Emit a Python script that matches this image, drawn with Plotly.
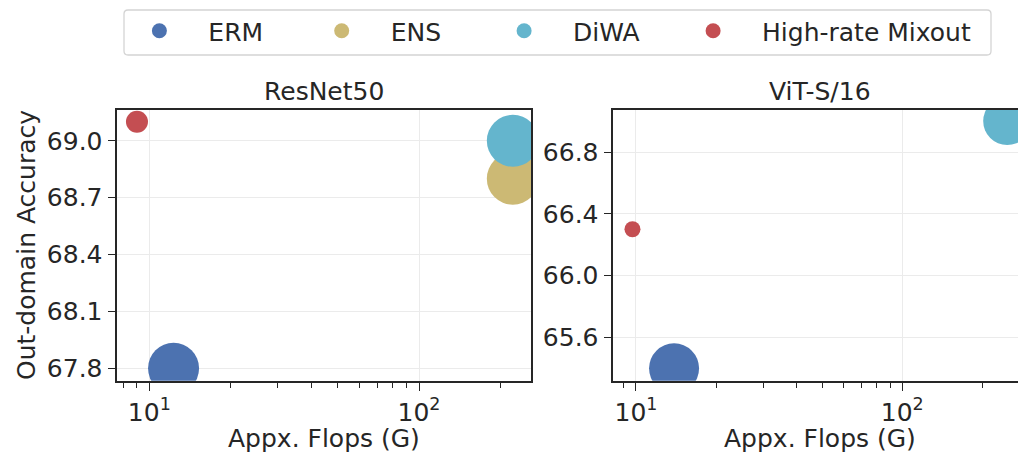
import plotly.graph_objects as go

methods = ["ERM", "ENS", "DiWA", "High-rate Mixout"]
colors = ["#4C72B0", "#CCB974", "#64B5CD", "#C44E52"]

# ResNet50 panel
resnet_flops = [12.3, 222.8, 222.8, 9.0]
resnet_acc = [67.8, 68.8, 69.0, 69.1]
resnet_size = [51, 52, 52, 22]

# ViT-S/16 panel (ENS not visible in the cropped view)
vit_flops = [13.9, None, 247.7, 9.7]
vit_acc = [65.4, None, 67.0, 66.3]
vit_size = [50, None, 48, 16]

resnet_yticks = [67.8, 68.1, 68.4, 68.7, 69.0]
vit_yticks = [65.6, 66.0, 66.4, 66.8]
x_major = [10, 100]
x_major_text = ["10<sup>1</sup>", "10<sup>2</sup>"]
x_minor = [8, 9, 20, 30, 40, 50, 60, 70, 80, 90, 200]

W, H = 1018, 453
FONT = "DejaVu Sans"
TXT = "#262626"

# legend layout (pixels)
legend_marker_px = [161.7, 344.0, 526.4, 715.4]
ITEMW = 72
MARKER_OFF = 43.3

fig = go.Figure()

for i, m in enumerate(methods):
    if resnet_flops[i] is not None:
        fig.add_trace(go.Scatter(
            x=[resnet_flops[i]], y=[resnet_acc[i]], mode="markers",
            marker=dict(size=resnet_size[i], color=colors[i], line=dict(width=0)),
            showlegend=False, xaxis="x", yaxis="y", name=m))
    if vit_flops[i] is not None:
        fig.add_trace(go.Scatter(
            x=[vit_flops[i]], y=[vit_acc[i]], mode="markers",
            marker=dict(size=vit_size[i], color=colors[i], line=dict(width=0)),
            showlegend=False, xaxis="x2", yaxis="y2", name=m))

legend_names = ["legend", "legend2", "legend3", "legend4"]
for i, m in enumerate(methods):
    fig.add_trace(go.Scatter(
        x=[None], y=[None], mode="markers", name="\u00a0" + m,
        marker=dict(size=15, color=colors[i], line=dict(width=0)),
        showlegend=True, legend=legend_names[i], xaxis="x", yaxis="y"))

def xaxis(domain, rng):
    return dict(
        domain=domain, type="log", range=rng,
        showline=True, linecolor=TXT, linewidth=1.6, mirror=True,
        showgrid=True, gridcolor="#ebebeb", gridwidth=1,
        zeroline=False,
        tickmode="array", tickvals=x_major, ticktext=x_major_text,
        ticks="outside", ticklen=8, tickwidth=1.4, tickcolor=TXT,
        tickfont=dict(family=FONT, size=25, color=TXT),
        minor=dict(tickmode="array", tickvals=x_minor, ticks="outside",
                   ticklen=5, tickwidth=1.2, tickcolor=TXT, showgrid=False),
        automargin=False,
    )

def yaxis(domain, rng, ticks, anchor, mirror):
    return dict(
        domain=domain, range=rng, anchor=anchor,
        showline=True, linecolor=TXT, linewidth=1.6, mirror=mirror,
        showgrid=True, gridcolor="#ebebeb", gridwidth=1,
        zeroline=False,
        tickmode="array", tickvals=ticks, tickformat=".1f",
        ticks="outside", ticklen=8, tickwidth=1.4, tickcolor=TXT,
        tickfont=dict(family=FONT, size=25, color=TXT),
        ticklabelstandoff=0,
        automargin=False,
    )

ydom = [1 - 380.7 / H, 1 - 109.5 / H]
layout = dict(
    width=W, height=H,
    margin=dict(l=0, r=0, t=0, b=0),
    paper_bgcolor="white", plot_bgcolor="white",
    font=dict(family=FONT, color=TXT, size=25),
    xaxis=xaxis([117.3 / W, 531 / W], [0.8813, 2.4153]) | dict(anchor="y"),
    yaxis=yaxis(ydom, [67.735, 69.165], resnet_yticks, "x", True),
    xaxis2=xaxis([613.3 / W, 1.0], [0.9148, 2.4345]) | dict(anchor="y2"),
    yaxis2=yaxis(ydom, [65.32, 67.075], vit_yticks, "x2", False),
    showlegend=True,
)
for i, ln in enumerate(legend_names):
    layout[ln] = dict(
        orientation="h", x=(legend_marker_px[i] - MARKER_OFF) / W, xanchor="left",
        y=1 - 8 / H, yanchor="top",
        borderwidth=0, bgcolor="rgba(0,0,0,0)",
        font=dict(family=FONT, size=25, color=TXT),
        itemwidth=ITEMW, itemclick=False, itemdoubleclick=False,
    )
fig.update_layout(**layout)

# rounded legend frame
x0, x1, y0, y1, r = 124, 991, 10, 55, 4
def px(x):
    return x / W
def py(y):
    return 1 - y / H
path = (f"M {px(x0 + r)} {py(y0)} L {px(x1 - r)} {py(y0)} "
        f"Q {px(x1)} {py(y0)} {px(x1)} {py(y0 + r)} L {px(x1)} {py(y1 - r)} "
        f"Q {px(x1)} {py(y1)} {px(x1 - r)} {py(y1)} L {px(x0 + r)} {py(y1)} "
        f"Q {px(x0)} {py(y1)} {px(x0)} {py(y1 - r)} L {px(x0)} {py(y0 + r)} "
        f"Q {px(x0)} {py(y0)} {px(x0 + r)} {py(y0)} Z")
fig.add_shape(type="path", xref="paper", yref="paper", path=path,
              line=dict(color="#d4d4d4", width=1.3), fillcolor="white", layer="below")

ann = [
    dict(text="ResNet50", x=324 / W, y=1 - 91 / H),
    dict(text="ViT-S/16", x=820 / W, y=1 - 91 / H),
    dict(text="Appx. Flops (G)", x=324 / W, y=1 - 438 / H),
    dict(text="Appx. Flops (G)", x=820 / W, y=1 - 438 / H),
]
for a in ann:
    fig.add_annotation(xref="paper", yref="paper", showarrow=False,
                       xanchor="center", yanchor="middle",
                       font=dict(family=FONT, size=25, color=TXT), **a)
fig.add_annotation(text="Out-domain Accuracy", xref="paper", yref="paper",
                   x=26 / W, y=1 - 245 / H, textangle=-90, showarrow=False,
                   xanchor="center", yanchor="middle",
                   font=dict(family=FONT, size=25, color=TXT))

fig.write_html("out.html", config={"displayModeBar": False},
               post_script="document.body.style.margin='0';")
